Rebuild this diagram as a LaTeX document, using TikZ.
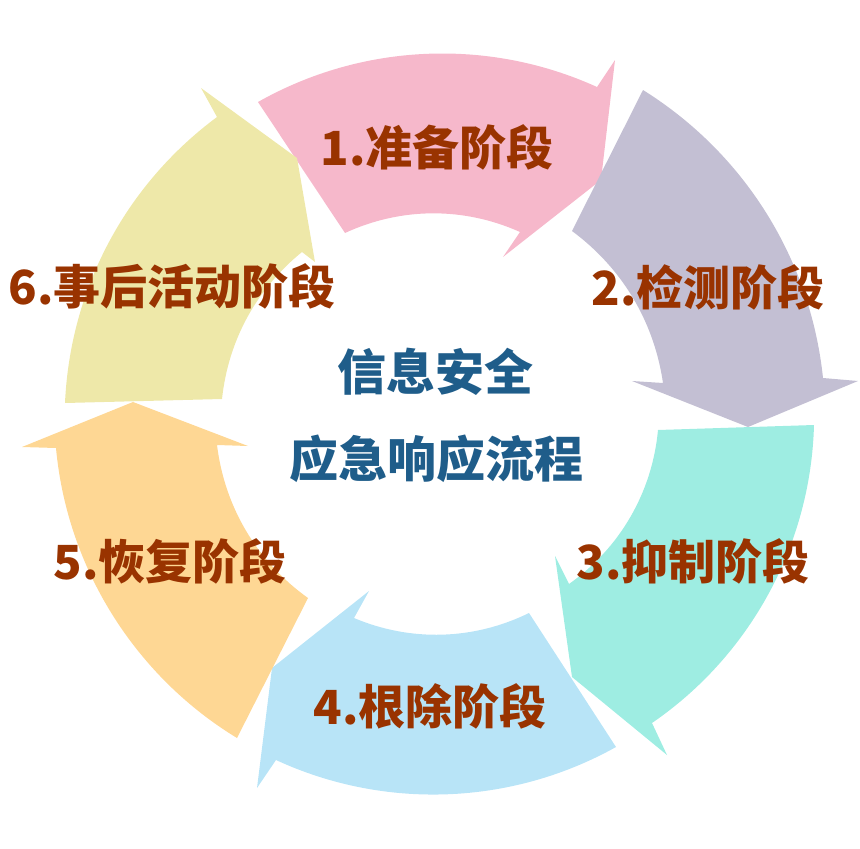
\documentclass[tikz,border=0pt]{standalone}
\usepackage{fontspec}
\newfontfamily\cjk{Noto Sans CJK SC}
\definecolor{pinkc}{RGB}{246,184,203}
\definecolor{purplec}{RGB}{195,191,211}
\definecolor{tealc}{RGB}{158,237,226}
\definecolor{bluec}{RGB}{184,228,247}
\definecolor{orangec}{RGB}{254,215,148}
\definecolor{yellowc}{RGB}{238,232,169}
\definecolor{labelc}{RGB}{153,51,0}
\definecolor{centerc}{RGB}{31,93,138}
\begin{document}
\begin{tikzpicture}[x=1pt,y=1pt,
  lbl/.style={font=\cjk\bfseries\fontsize{47}{56}\selectfont, text=labelc, inner sep=0pt},
  ctr/.style={font=\cjk\bfseries\fontsize{49}{58}\selectfont, text=centerc, inner sep=0pt},
  ol/.style={bend left=#1, looseness=0.9},
  il/.style={bend right=#1, looseness=0.9}]
\useasboundingbox (0,0) rectangle (860,-849);
% arrow 1 (pink)
\coordinate (p1to) at (258,-102); \coordinate (p1ob) at (597,-87); \coordinate (p1ox) at (615,-60);
\coordinate (p1tp) at (601,-180); \coordinate (p1ix) at (503,-257); \coordinate (p1ib) at (520,-232);
\coordinate (p1ti) at (345,-233);
% arrow 2 (purple)
\coordinate (p2to) at (643,-90); \coordinate (p2ob) at (823,-378); \coordinate (p2ox) at (858,-381);
\coordinate (p2tp) at (748,-427); \coordinate (p2ix) at (632,-381); \coordinate (p2ib) at (663,-383);
\coordinate (p2ti) at (572,-231);
% arrow 3 (teal)
\coordinate (p3to) at (814,-425); \coordinate (p3ob) at (652,-723); \coordinate (p3ox) at (667,-755);
\coordinate (p3tp) at (572,-677); \coordinate (p3ix) at (555,-556); \coordinate (p3ib) at (569,-584);
\coordinate (p3ti) at (658,-430);
% arrow 4 (blue)
\coordinate (p4to) at (616,-747); \coordinate (p4ob) at (276,-760); \coordinate (p4ox) at (257,-788);
\coordinate (p4tp) at (272,-668); \coordinate (p4ix) at (369,-591); \coordinate (p4ib) at (354,-618);
\coordinate (p4ti) at (529,-613);
% arrow 5 (orange)
\coordinate (p5to) at (237,-738); \coordinate (p5ob) at (56,-448); \coordinate (p5ox) at (22,-447);
\coordinate (p5tp) at (133,-402); \coordinate (p5ix) at (248,-446); \coordinate (p5ib) at (217,-445);
\coordinate (p5ti) at (308,-598);
% arrow 6 (yellow)
\coordinate (p6to) at (65,-403); \coordinate (p6ob) at (217,-117); \coordinate (p6ox) at (201,-88);
\coordinate (p6tp) at (297,-158); \coordinate (p6ix) at (315,-262); \coordinate (p6ib) at (302,-252);
\coordinate (p6ti) at (222,-399);

\fill[pinkc] (p1to) to[ol=27] (p1ob) -- (p1ox) -- (p1tp) -- (p1ix) -- (p1ib) to[il=24.5] (p1ti) -- cycle;
\fill[purplec] (p2to) to[ol=26] (p2ob) -- (p2ox) -- (p2tp) -- (p2ix) -- (p2ib) to[il=22.6] (p2ti) -- cycle;
\fill[tealc] (p3to) to[ol=27] (p3ob) -- (p3ox) -- (p3tp) -- (p3ix) -- (p3ib) to[il=24.7] (p3ti) -- cycle;
\fill[bluec] (p4to) to[ol=27] (p4ob) -- (p4ox) -- (p4tp) -- (p4ix) -- (p4ib) to[il=24.5] (p4ti) -- cycle;
\fill[orangec] (p5to) to[ol=26.7] (p5ob) -- (p5ox) -- (p5tp) -- (p5ix) -- (p5ib) to[il=23.7] (p5ti) -- cycle;
\fill[yellowc] (p6to) to[ol=25.4] (p6ob) -- (p6ox) -- (p6tp) -- (p6ix) -- (p6ib) to[il=22.4] (p6ti) -- cycle;

\node[lbl] (l1) at (437,-147) {1.准备阶段};
\node[lbl] (l2) at (708,-287) {2.检测阶段};
\node[lbl] (l3) at (693,-561) {3.抑制阶段};
\node[lbl] (l4) at (430,-706) {4.根除阶段};
\node[lbl] (l5) at (170,-561) {5.恢复阶段};
\node[lbl] (l6) at (172,-286) {6.事后活动阶段};
\node[ctr] (c1) at (435,-372) {信息安全};
\node[ctr] (c2) at (436,-459) {应急响应流程};
\end{tikzpicture}
\end{document}
